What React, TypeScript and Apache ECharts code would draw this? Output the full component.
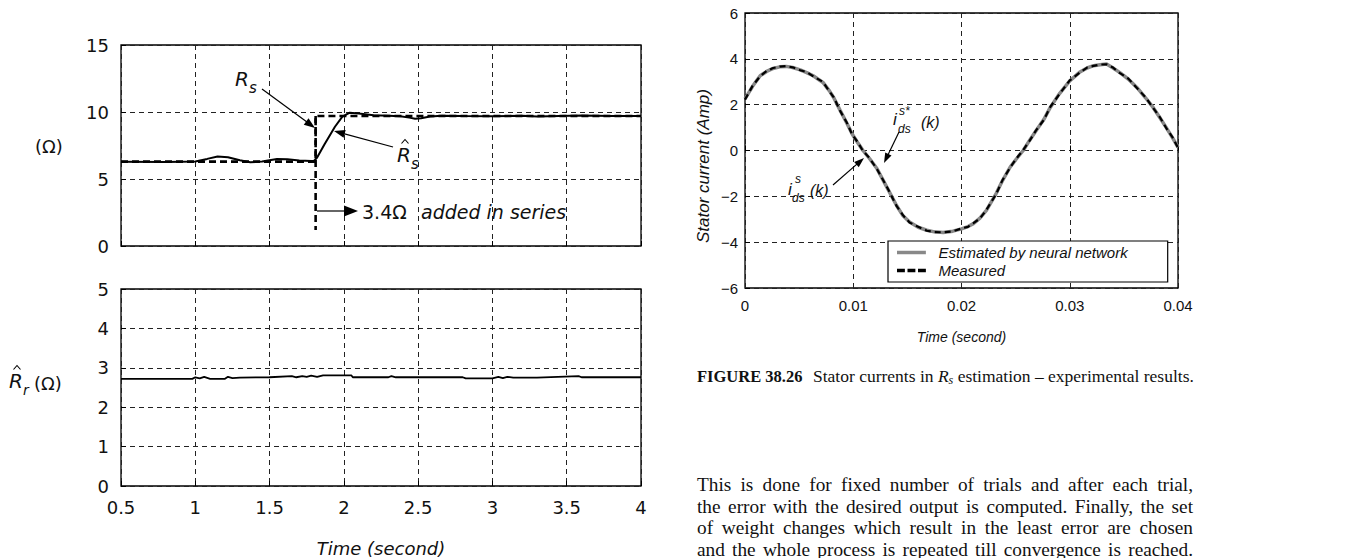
import React, { useEffect, useRef } from "react";
import * as echarts from "echarts";

// ---------- Top-left panel: stator resistance (Ω) ----------
const rsTime = [0.5, 1.81, 1.81, 4.0];
const rsMeasured = [6.3, 6.3, 9.7, 9.7];
const stepMarkTime = [1.81, 1.81];
const stepMarkValue = [9.7, 1.2];
const rsHatTime = [0.5, 0.8, 1.0, 1.08, 1.15, 1.22, 1.3, 1.37, 1.45, 1.55, 1.62, 1.7, 1.78, 1.8, 1.82, 1.87, 1.94, 1.99, 2.04, 2.1, 2.2, 2.3, 2.38, 2.44, 2.48, 2.52, 2.58, 2.66, 2.8, 3.0, 3.2, 3.3, 3.45, 3.6, 3.8, 4.0];
const rsHatValue = [6.28, 6.26, 6.3, 6.5, 6.68, 6.62, 6.4, 6.25, 6.3, 6.5, 6.48, 6.38, 6.35, 6.36, 6.6, 7.6, 8.9, 9.65, 9.95, 9.88, 9.76, 9.72, 9.68, 9.58, 9.5, 9.53, 9.66, 9.72, 9.7, 9.68, 9.72, 9.66, 9.7, 9.74, 9.7, 9.7];

// ---------- Bottom-left panel: rotor resistance estimate ----------
const rrTime = [0.5, 0.98, 1.0, 1.03, 1.06, 1.1, 1.2, 1.22, 1.25, 1.3, 1.5, 1.65, 1.68, 1.72, 1.75, 1.78, 1.82, 1.86, 1.9, 2.05, 2.06, 2.3, 2.32, 2.35, 2.8, 2.82, 3.0, 3.04, 3.07, 3.1, 3.14, 3.3, 3.58, 3.6, 4.0];
const rrValue = [2.72, 2.72, 2.76, 2.73, 2.77, 2.72, 2.72, 2.77, 2.74, 2.75, 2.76, 2.79, 2.76, 2.79, 2.77, 2.8, 2.77, 2.81, 2.81, 2.81, 2.76, 2.76, 2.79, 2.76, 2.76, 2.73, 2.73, 2.77, 2.74, 2.77, 2.75, 2.75, 2.79, 2.76, 2.76];

// ---------- Right panel: stator current (Amp) ----------
const currentTime = [0, 0.0007, 0.0014, 0.002, 0.0026, 0.0032, 0.0038, 0.0044, 0.0051, 0.0057, 0.0063, 0.0072, 0.0078, 0.0082, 0.0088, 0.0094, 0.0099, 0.0104, 0.0109, 0.0115, 0.0122, 0.0131, 0.014, 0.0146, 0.0152, 0.016, 0.0168, 0.0175, 0.0183, 0.0192, 0.02, 0.0206, 0.0211, 0.0217, 0.0223, 0.0232, 0.0238, 0.0245, 0.0251, 0.0257, 0.0263, 0.0269, 0.0276, 0.0282, 0.029, 0.03, 0.0309, 0.0316, 0.0322, 0.0328, 0.0334, 0.034, 0.0346, 0.0354, 0.0362, 0.037, 0.0377, 0.0383, 0.0389, 0.0395, 0.04];
const currentEstimated = [2.25, 2.8, 3.26, 3.45, 3.58, 3.65, 3.67, 3.62, 3.52, 3.4, 3.26, 2.97, 2.6, 2.3, 1.74, 1.2, 0.72, 0.35, 0.0, -0.35, -0.8, -1.6, -2.4, -2.85, -3.12, -3.35, -3.48, -3.55, -3.58, -3.52, -3.42, -3.32, -3.19, -2.95, -2.61, -1.88, -1.3, -0.72, -0.35, 0.0, 0.45, 0.87, 1.35, 1.88, 2.45, 3.04, 3.41, 3.6, 3.7, 3.74, 3.77, 3.6, 3.41, 3.12, 2.75, 2.3, 1.88, 1.45, 1.01, 0.55, 0.14];
const currentMeasured = [2.22, 2.82, 3.24, 3.47, 3.6, 3.66, 3.68, 3.63, 3.5, 3.42, 3.24, 2.99, 2.58, 2.32, 1.72, 1.22, 0.7, 0.37, -0.02, -0.33, -0.82, -1.58, -2.42, -2.83, -3.14, -3.33, -3.5, -3.56, -3.57, -3.53, -3.4, -3.33, -3.17, -2.97, -2.59, -1.9, -1.28, -0.74, -0.33, 0.02, 0.43, 0.89, 1.33, 1.9, 2.43, 3.06, 3.39, 3.62, 3.69, 3.75, 3.76, 3.62, 3.39, 3.14, 2.73, 2.32, 1.86, 1.47, 0.99, 0.57, 0.12];

const legendNames = ["Estimated by neural network", "Measured"];

// ---------- Page text ----------
const captionLabel = "FIGURE 38.26";
const captionParts = ["Stator currents in ", "R", "s", " estimation – experimental results."];
const paragraphLines = [
  "This is done for fixed number of trials and after each trial,",
  "the error with the desired output is computed. Finally, the set",
  "of weight changes which result in the least error are chosen",
  "and the whole process is repeated till convergence is reached.",
];

const pairs = (xs: number[], ys: number[]) => xs.map((x, i) => [x, ys[i]]);

const SANS_L = "DejaVu Sans";
const SANS_R = "Liberation Sans";
const SERIF = "Liberation Serif";
const INK = "#111";

function arrow(x1: number, y1: number, x2: number, y2: number, len = 10, half = 4) {
  const dx = x2 - x1, dy = y2 - y1;
  const d = Math.hypot(dx, dy);
  const ux = dx / d, uy = dy / d;
  const bx = x2 - ux * len, by = y2 - uy * len;
  return [
    { type: "line", z: 100, shape: { x1, y1, x2: bx + ux * 1, y2: by + uy * 1 }, style: { stroke: "#000", lineWidth: 1.2 } },
    {
      type: "polygon", z: 100,
      shape: { points: [[x2, y2], [bx - uy * half, by + ux * half], [bx + uy * half, by - ux * half]] },
      style: { fill: "#000" },
    },
  ];
}

function txt(text: string, x: number, y: number, o: any = {}) {
  return {
    type: "text", z: 100, x, y, rotation: o.rotation || 0,
    style: {
      text,
      fontFamily: o.family || SANS_L,
      fontSize: o.size || 18,
      fontStyle: o.italic ? "italic" : "normal",
      fontWeight: o.bold ? "bold" : "normal",
      fill: INK,
      textAlign: o.align || "left",
      textVerticalAlign: "middle",
      verticalAlign: "middle",
    },
  };
}

function hat(x: number, y: number) {
  return { type: "polyline", z: 100, shape: { points: [[x - 3.5, y + 2.5], [x, y - 1.5], [x + 3.5, y + 2.5]] }, style: { stroke: "#000", lineWidth: 1.1, fill: "none" } };
}

export default function App() {
  const ref = useRef<HTMLDivElement>(null);
  useEffect(() => {
    if (!ref.current) return;
    const chart = echarts.init(ref.current, undefined, { renderer: "svg" });
    const canvas = document.createElement("canvas");
    const ctx = canvas.getContext("2d")!;
    const measure = (t: string, font: string) => { ctx.font = font; return ctx.measureText(t).width; };

    const gridLine = { show: true, lineStyle: { color: "#222", type: [5, 4], width: 1 } };
    const tick = { show: true, inside: true, length: 5, lineStyle: { color: "#000", width: 1 } };
    const gridBox = { show: true, borderColor: "#000", borderWidth: 1.3, backgroundColor: "transparent" };
    const minus = (v: number) => (v < 0 ? "\u2212" + Math.abs(v) : String(v));

    const graphic: any[] = [];
    // left panel labels
    graphic.push(txt("(Ω)", 49, 146, { align: "center" }));
    graphic.push(txt("R", 16, 381, { italic: true, size: 20, align: "center" }));
    graphic.push(hat(17, 367));
    graphic.push(txt("r", 23, 390, { italic: true, size: 14 }));
    graphic.push(txt("(Ω)", 48, 383, { align: "center" }));
    // Rs annotation
    graphic.push(txt("R", 242, 79, { italic: true, size: 20, align: "center" }));
    graphic.push(txt("s", 249, 88, { italic: true, size: 15 }));
    graphic.push(...arrow(262, 89, 315, 128, 11, 4));
    // R̂s annotation
    graphic.push(txt("R", 404, 155, { italic: true, size: 20, align: "center" }));
    graphic.push(hat(405, 141));
    graphic.push(txt("s", 411, 164, { italic: true, size: 15 }));
    graphic.push(...arrow(393, 147, 334, 131, 11, 4));
    // step annotation
    graphic.push(...arrow(317, 211, 358, 211, 14, 5.5));
    graphic.push(txt("3.4Ω", 362, 212, { size: 19 }));
    graphic.push(txt("added in series", 421, 212, { size: 19, italic: true }));

    // right panel labels
    graphic.push(txt("Stator current (Amp)", 703, 166, { family: SANS_R, size: 17, italic: true, align: "center", rotation: Math.PI / 2 }));
    graphic.push(txt("i", 893, 119, { family: SANS_R, size: 17, italic: true }));
    graphic.push(txt("s*", 899, 111, { family: SANS_R, size: 12, italic: true }));
    graphic.push(txt("ds", 898, 129, { family: SANS_R, size: 12, italic: true }));
    graphic.push(txt("(k)", 921, 122, { family: SANS_R, size: 16, italic: true }));
    graphic.push(...arrow(899, 132, 884, 163, 10, 3.5));
    graphic.push(txt("i", 788, 189, { family: SANS_R, size: 17, italic: true }));
    graphic.push(txt("s", 795, 179, { family: SANS_R, size: 12, italic: true }));
    graphic.push(txt("ds", 792, 198, { family: SANS_R, size: 12, italic: true }));
    graphic.push(txt("(k)", 810, 190, { family: SANS_R, size: 16, italic: true }));
    graphic.push(...arrow(833, 185, 864, 158, 10, 3.5));

    // caption
    graphic.push(txt(captionLabel, 697, 376, { family: SERIF, size: 16.5, bold: true }));
    let cx = 813;
    const capSize = 17.5;
    const capFonts = [
      { size: capSize, italic: false, dy: 0 },
      { size: capSize, italic: true, dy: 0 },
      { size: 12, italic: true, dy: 4 },
      { size: capSize, italic: false, dy: 0 },
    ];
    captionParts.forEach((p, i) => {
      const f = capFonts[i];
      graphic.push(txt(p, cx, 376 + f.dy, { family: SERIF, size: f.size, italic: f.italic }));
      cx += measure(p, `${f.italic ? "italic " : ""}${f.size}px "${SERIF}"`);
    });

    // justified paragraph
    const pSize = 19.3;
    const pFont = `${pSize}px "${SERIF}"`;
    const pLeft = 697, pRight = 1193;
    const pY = [484, 506, 527, 549];
    paragraphLines.forEach((line, li) => {
      const words = line.split(" ");
      const widths = words.map((w) => measure(w, pFont));
      const total = widths.reduce((a, b) => a + b, 0);
      const gap = (pRight - pLeft - total) / (words.length - 1);
      let x = pLeft;
      words.forEach((w, wi) => {
        graphic.push(txt(w, x, pY[li], { family: SERIF, size: pSize }));
        x += widths[wi] + gap;
      });
    });

    const option: any = {
      animation: false,
      backgroundColor: "#fff",
      grid: [
        { left: 121, top: 45, width: 520, height: 201, ...gridBox },
        { left: 121, top: 289, width: 520, height: 201, ...gridBox },
        { left: 745, top: 13, width: 433, height: 275, ...gridBox },
      ],
      xAxis: [
        { gridIndex: 0, type: "value", min: 0.5, max: 4, interval: 0.5, axisLine: { show: false }, axisTick: tick, axisLabel: { show: false }, splitLine: gridLine },
        {
          gridIndex: 1, type: "value", min: 0.5, max: 4, interval: 0.5, axisLine: { show: false }, axisTick: tick, splitLine: gridLine,
          axisLabel: { fontFamily: SANS_L, fontSize: 18, color: INK, margin: 12 },
          name: "Time (second)", nameLocation: "middle", nameGap: 53,
          nameTextStyle: { fontFamily: SANS_L, fontSize: 18, fontStyle: "italic", color: INK },
        },
        {
          gridIndex: 2, type: "value", min: 0, max: 0.04, interval: 0.01, axisLine: { show: false }, axisTick: tick, splitLine: gridLine,
          axisLabel: { fontFamily: SANS_R, fontSize: 15, color: INK, margin: 10, formatter: (v: number) => (v === 0 ? "0" : v.toFixed(2)) },
          name: "Time (second)", nameLocation: "middle", nameGap: 42,
          nameTextStyle: { fontFamily: SANS_R, fontSize: 14, fontStyle: "italic", color: INK },
        },
      ],
      yAxis: [
        { gridIndex: 0, type: "value", min: 0, max: 15, interval: 5, axisLine: { show: false }, axisTick: tick, splitLine: gridLine, axisLabel: { fontFamily: SANS_L, fontSize: 18, color: INK, margin: 12 } },
        { gridIndex: 1, type: "value", min: 0, max: 5, interval: 1, axisLine: { show: false }, axisTick: tick, splitLine: gridLine, axisLabel: { fontFamily: SANS_L, fontSize: 18, color: INK, margin: 12 } },
        { gridIndex: 2, type: "value", min: -6, max: 6, interval: 2, axisLine: { show: false }, axisTick: tick, splitLine: gridLine, axisLabel: { fontFamily: SANS_R, fontSize: 15, color: INK, margin: 7, formatter: minus } },
      ],
      legend: {
        data: [
          { name: legendNames[0], icon: "path://M0 0h33v4h-33z" },
          { name: legendNames[1], icon: "path://M0 0h9v4h-9z M12 0h9v4h-9z M24 0h9v4h-9z" },
        ],
        orient: "vertical", left: 888, top: 241, itemWidth: 32, itemHeight: 3.5, itemGap: 3,
        padding: [4, 40, 4, 9], borderColor: "#000", borderWidth: 1.2, backgroundColor: "#fff", borderRadius: 0,
        selectedMode: false,
        textStyle: { fontFamily: SANS_R, fontStyle: "italic", fontSize: 15, color: INK, padding: [0, 0, 0, 6] },
      },
      series: [
        { type: "line", name: "Rs measured", xAxisIndex: 0, yAxisIndex: 0, data: pairs(rsTime, rsMeasured), symbol: "none", lineStyle: { color: "#000", width: 2.6, type: [7, 4] }, z: 3 },
        { type: "line", name: "3.4Ω step", xAxisIndex: 0, yAxisIndex: 0, data: pairs(stepMarkTime, stepMarkValue), symbol: "none", lineStyle: { color: "#000", width: 2.6, type: [7, 4] }, z: 3 },
        { type: "line", name: "Rs estimated", xAxisIndex: 0, yAxisIndex: 0, data: pairs(rsHatTime, rsHatValue), symbol: "none", lineStyle: { color: "#000", width: 2 }, z: 4 },
        { type: "line", name: "Rr estimated", xAxisIndex: 1, yAxisIndex: 1, data: pairs(rrTime, rrValue), symbol: "none", lineStyle: { color: "#000", width: 1.8 }, z: 4 },
        { type: "line", name: legendNames[0], xAxisIndex: 2, yAxisIndex: 2, data: pairs(currentTime, currentEstimated), symbol: "none", itemStyle: { color: "#888" }, lineStyle: { color: "#888", width: 3.5 }, z: 3 },
        { type: "line", name: legendNames[1], xAxisIndex: 2, yAxisIndex: 2, data: pairs(currentTime, currentMeasured), symbol: "none", itemStyle: { color: "#000" }, lineStyle: { color: "#000", width: 2.2, type: [6, 4] }, z: 4 },
      ],
      graphic,
    };
    chart.setOption(option);
    return () => chart.dispose();
  }, []);
  return <div ref={ref} style={{ position: "fixed", left: 0, top: 0, width: 1363, height: 558, background: "#fff" }} />;
}
